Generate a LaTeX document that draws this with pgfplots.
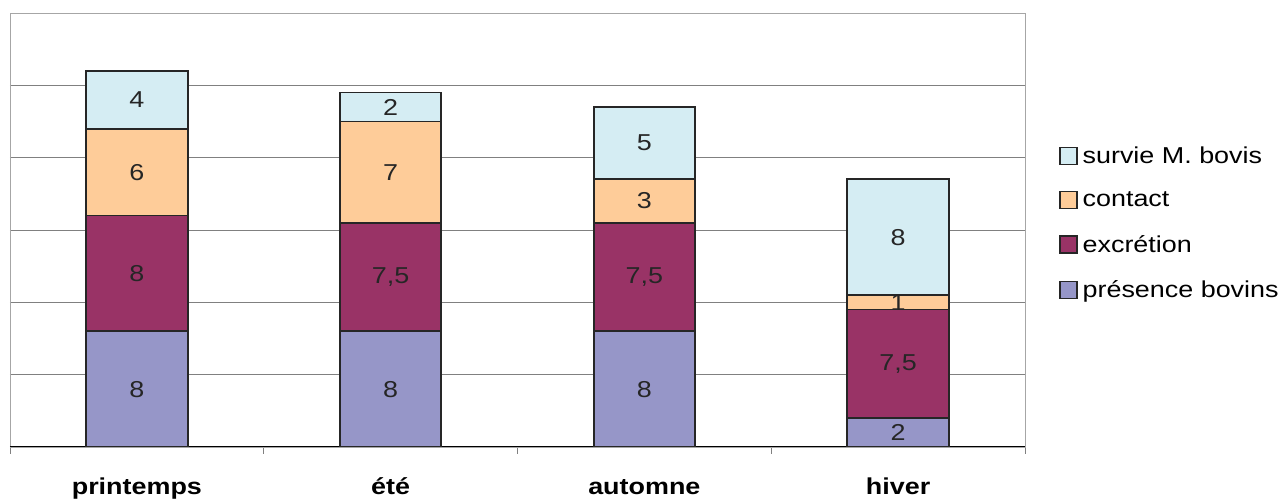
\documentclass[border=0pt]{standalone}
\usepackage{pgfplots}
\usepackage{pgfplotstable}
\pgfplotsset{compat=1.18}
\usepackage{fontspec}
\setmainfont{Liberation Sans}[FakeStretch=1.17]
\definecolor{csurv}{HTML}{D5EDF3}
\definecolor{ccont}{HTML}{FECC99}
\definecolor{cexcr}{HTML}{993366}
\definecolor{cpres}{HTML}{9696C8}
\definecolor{cgrid}{HTML}{808080}
\pgfplotstableread{
x pres excr cont surv
0 8 8   6 4
1 8 7.5 7 2
2 8 7.5 3 5
3 2 7.5 1 8
}\data
\begin{document}
\begin{tikzpicture}[x=1pt,y=1pt]
\path[use as bounding box] (0,0) rectangle (1288,502);
\begin{axis}[
  at={(10pt,55pt)}, anchor=south west,
  scale only axis, width=1015pt, height=434pt,
  ybar stacked, bar width=0.4,
  xmin=-0.5, xmax=3.5, ymin=0, ymax=30,
  xtick={-0.5,0.5,1.5,2.5,3.5},
  xticklabels={},
  xtick pos=bottom,
  xtick style={draw=cgrid, line width=0.8pt},
  major tick length=7pt, tick align=outside,
  extra x ticks={0,1,2,3},
  extra x tick labels={printemps,été,automne,hiver},
  extra x tick style={major tick length=0pt, xtick style={draw=none},
    xticklabel style={font=\fontsize{23}{23}\selectfont\bfseries, anchor=base, yshift=-48pt}},
  ytick={5,10,15,20,25},
  yticklabels={},
  ytick style={draw=none},
  ymajorgrids, grid style={draw=cgrid, line width=0.8pt},
  axis line style={draw=cgrid!70, line width=0.8pt},
  point meta=explicit,
  /pgf/number format/use comma,
  /pgf/number format/assume math mode=true,
  nodes near coords,
  every node near coord/.append style={anchor=center, font=\fontsize{23}{23}\selectfont, text=black!85},
  legend image code/.code={\draw[#1,draw=black!85,line width=1.5pt] (0pt,-8.5pt) rectangle (17pt,8.5pt);},
  reverse legend,
  legend cell align=left,
  legend style={at={(1.0335,0.516)}, anchor=west, draw=none, fill=none,
    font=\fontsize{23}{23}\selectfont, row sep=17pt, inner sep=0pt,
    nodes={inner sep=5pt}, /tikz/every even column/.append style={xshift=3pt}},
]
\addplot[fill=cpres, draw=black!85, line width=1.8pt] table[x=x,y=pres,meta=pres] {\data};
\addlegendentry{présence bovins}
\addplot[fill=cexcr, draw=black!85, line width=1.8pt] table[x=x,y=excr,meta=excr] {\data};
\addlegendentry{excrétion}
\addplot[fill=ccont, draw=black!85, line width=1.8pt] table[x=x,y=cont,meta=cont] {\data};
\addlegendentry{contact}
\addplot[fill=csurv, draw=black!85, line width=1.8pt] table[x=x,y=surv,meta=surv] {\data};
\addlegendentry{survie M. bovis}
\draw[black, line width=1.3pt] (rel axis cs:0,0) -- (rel axis cs:1,0);
\end{axis}
\end{tikzpicture}
\end{document}
